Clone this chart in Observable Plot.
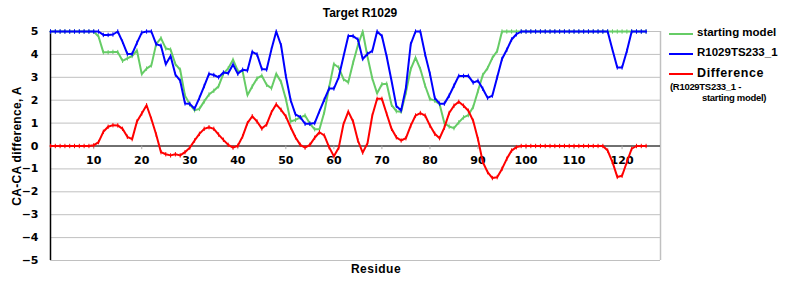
<!DOCTYPE html>
<html>
<head>
<meta charset="utf-8">
<script src="https://cdn.jsdelivr.net/npm/d3@7"></script>
<script src="https://cdn.jsdelivr.net/npm/@observablehq/plot@0.6"></script>
<style>
  html, body { margin: 0; padding: 0; background: #fff; }
  #wrap { position: relative; width: 800px; height: 300px; font-family: "Liberation Sans", Arial, sans-serif; }
  #wrap svg { position: absolute; left: 0; top: 0; }
  .lbl { position: absolute; font-weight: bold; color: #000; white-space: nowrap; }
</style>
</head>
<body>
<div id="wrap"></div>
<script>
const seriesNames = ["starting model", "R1029TS233_1", "Difference"];
const seriesColors = ["#66cc66", "#0000ff", "#ff0000"];
const xTicks = [10, 20, 30, 40, 50, 60, 70, 80, 90, 100, 110, 120];
const yTicks = [-5, -4, -3, -2, -1, 0, 1, 2, 3, 4, 5];

const startingModel = [
  5, 5, 5, 5, 5, 5, 5, 5, 5, 5,
  4.78, 4.09, 4.09, 4.11, 4.1, 3.72, 3.83, 3.93, 4.17, 3.14,
  3.38, 3.52, 4.45, 4.71, 4.26, 4.21, 3.58, 3.33, 2.2, 1.82,
  1.56, 1.62, 1.95, 2.25, 2.41, 2.61, 3.16, 3.39, 3.77, 3.28,
  3.26, 2.22, 2.6, 2.95, 3.07, 2.67, 2.52, 3.15, 2.8, 2.05,
  1.07, 1.14, 1.25, 1.33, 0.98, 0.73, 0.73, 1.47, 2.56, 3.58,
  3.43, 2.92, 2.78, 3.64, 4.4, 5, 3.9, 2.95, 2.3, 2.7,
  2.72, 1.8, 1.52, 1.5, 2.34, 3.36, 3.86, 3.36, 2.63, 2.05,
  1.98, 1.83, 1.0, 0.85, 0.78, 1.03, 1.25, 1.35, 1.7, 2.4,
  3.1, 3.4, 3.85, 4.15, 5, 5, 5, 5, 5, 5,
  5, 5, 5, 5, 5, 5, 5, 5, 5, 5,
  5, 5, 5, 5, 5, 5, 5, 5, 5, 5,
  5, 5, 5, 5, 5
];
const model = [
  5, 5, 5, 5, 5, 5, 5, 5, 5, 5,
  5, 4.85, 4.85, 4.87, 5, 4.55, 4.02, 4.02, 4.5, 4.95,
  5, 5, 4.45, 4.38, 3.57, 3.93, 3.12, 2.85, 1.86, 1.84,
  1.63, 2.1, 2.62, 3.15, 3.1, 3.0, 3.21, 3.18, 3.56, 3.15,
  3.33, 3.3, 4.11, 4.0, 3.36, 3.34, 4.22, 5, 4.4, 3.05,
  2.0, 1.38, 1.26, 0.97, 0.97, 1.0, 1.52, 2.02, 2.51, 2.51,
  3.0, 3.91, 4.8, 4.8, 4.65, 3.8, 4.02, 4.15, 5, 4.8,
  3.9, 2.85, 1.75, 1.55, 2.55, 4.45, 5, 5, 4.0, 3.15,
  2.1, 1.85, 1.85, 2.2, 2.63, 3.06, 3.06, 3.06, 2.77, 2.85,
  2.5, 2.1, 2.2, 3.0, 3.8, 4.2, 4.65, 4.88, 5, 5,
  5, 5, 5, 5, 5, 5, 5, 5, 5, 5,
  5, 5, 5, 5, 5, 5, 5, 4.2, 3.43, 3.43,
  4.15, 5, 5, 5, 5
];
const difference = [
  0, 0, 0, 0, 0, 0, 0, 0, 0, 0.03,
  0.17, 0.62, 0.84, 0.91, 0.9, 0.75, 0.4, 0.3, 1.07, 1.42,
  1.78, 1.18, 0.5, -0.27, -0.36, -0.41, -0.36, -0.41, -0.27, -0.07,
  0.24, 0.53, 0.75, 0.82, 0.75, 0.5, 0.27, 0.05, -0.07, 0.01,
  0.42, 1.0, 1.3, 1.07, 0.76, 0.94, 1.47, 1.82, 1.58, 1.29,
  0.82, 0.38, 0.05, -0.07, 0.05, 0.36, 0.6, 0.46, -0.05, -0.45,
  -0.08, 0.96, 1.5, 1.07, 0.24, -0.29, 0.12, 1.33, 2.06, 2.06,
  1.4, 0.75, 0.38, 0.24, 0.34, 0.89, 1.33, 1.44, 1.33, 0.89,
  0.53, 0.34, 0.8, 1.44, 1.76, 1.93, 1.76, 1.54, 1.1, 0.3,
  -0.7, -1.14, -1.4, -1.36, -1.0, -0.56, -0.2, -0.05, 0, 0,
  0, 0, 0, 0, 0, 0, 0, 0, 0, 0,
  0, 0, 0, 0, 0, 0, -0.2, -0.7, -1.35, -1.3,
  -0.7, -0.12, 0, 0, 0
];

const allSeries = [startingModel, model, difference];
const rows = [];
allSeries.forEach((vals, si) => vals.forEach((v, i) => rows.push({residue: i + 1, value: v, series: seriesNames[si]})));

// small vertical dash marker
const vDash = {draw(context, size) { const r = Math.sqrt(size / Math.PI); context.moveTo(0, -r); context.lineTo(0, r); }};

const marks = [
  Plot.gridY(yTicks, {stroke: "#c0c0c0", strokeOpacity: 1, strokeWidth: 1}),
  Plot.ruleX([128], {stroke: "#c0c0c0", strokeWidth: 1.5}),
  Plot.ruleY([0], {stroke: "#000", strokeWidth: 1}),
  Plot.ruleX([1], {stroke: "#000", strokeWidth: 1.5}),
  Plot.ruleX(xTicks, {x: d => d, y1: 0, y2: -0.16, stroke: "#aaa"}),
  Plot.text(xTicks, {x: d => d, y: 0, dy: 14, text: d => String(d), fontWeight: "bold", fontSize: 11, fontFamily: "DejaVu Sans", fill: "#000"}),
  Plot.axisY(yTicks, {tickSize: 0, tickPadding: 12, fontWeight: "bold", fontSize: 11, fontFamily: "DejaVu Sans", label: null}),
];
seriesNames.forEach((name, si) => {
  const data = rows.filter(r => r.series === name);
  marks.push(Plot.lineY(data, {x: "residue", y: "value", stroke: seriesColors[si], strokeWidth: 2}));
  marks.push(Plot.dot(data, {x: "residue", y: "value", stroke: seriesColors[si], symbol: vDash, r: 2.2, strokeWidth: 1}));
});

const chart = Plot.plot({
  width: 800,
  height: 300,
  marginLeft: 50,
  marginRight: 140,
  marginTop: 31,
  marginBottom: 40,
  style: {background: "transparent", overflow: "visible"},
  x: {domain: [1, 128], axis: null},
  y: {domain: [-5, 5], axis: null},
  marks
});

const wrap = document.getElementById("wrap");
wrap.appendChild(chart);

function addLabel(text, css) {
  const d = document.createElement("div");
  d.className = "lbl";
  d.textContent = text;
  Object.assign(d.style, css);
  wrap.appendChild(d);
  return d;
}
addLabel("Target R1029", {left: "310px", width: "100px", textAlign: "center", top: "6px", fontSize: "12px"});
addLabel("Residue", {left: "326px", width: "100px", textAlign: "center", top: "262px", fontSize: "12px", letterSpacing: "0.5px"});
addLabel("CA-CA difference, A", {left: "-83px", width: "200px", textAlign: "center", top: "139px", fontSize: "12px", transform: "rotate(-90deg)", letterSpacing: "0.3px"});

// legend
const legendTops = [27, 47, 67];
seriesNames.forEach((name, si) => {
  const sw = document.createElementNS("http://www.w3.org/2000/svg", "svg");
  sw.setAttribute("width", "24"); sw.setAttribute("height", "6");
  sw.style.position = "absolute"; sw.style.left = "669px"; sw.style.top = (legendTops[si] + 4) + "px";
  const ln = document.createElementNS("http://www.w3.org/2000/svg", "line");
  ln.setAttribute("x1", "0"); ln.setAttribute("x2", "24"); ln.setAttribute("y1", "3"); ln.setAttribute("y2", "3");
  ln.setAttribute("stroke", seriesColors[si]); ln.setAttribute("stroke-width", "2");
  sw.appendChild(ln);
  wrap.appendChild(sw);
  addLabel(name, {left: "697px", top: (legendTops[si] - 1) + "px", fontSize: si === 2 ? "12.5px" : "11.5px", letterSpacing: si === 2 ? "0.6px" : "0"});
});
addLabel("(R1029TS233_1 -", {left: "670px", top: "81px", fontSize: "9.5px", letterSpacing: "-0.3px"});
addLabel("starting model)", {left: "702px", top: "92px", fontSize: "9.5px", letterSpacing: "-0.3px"});
</script>
</body>
</html>
